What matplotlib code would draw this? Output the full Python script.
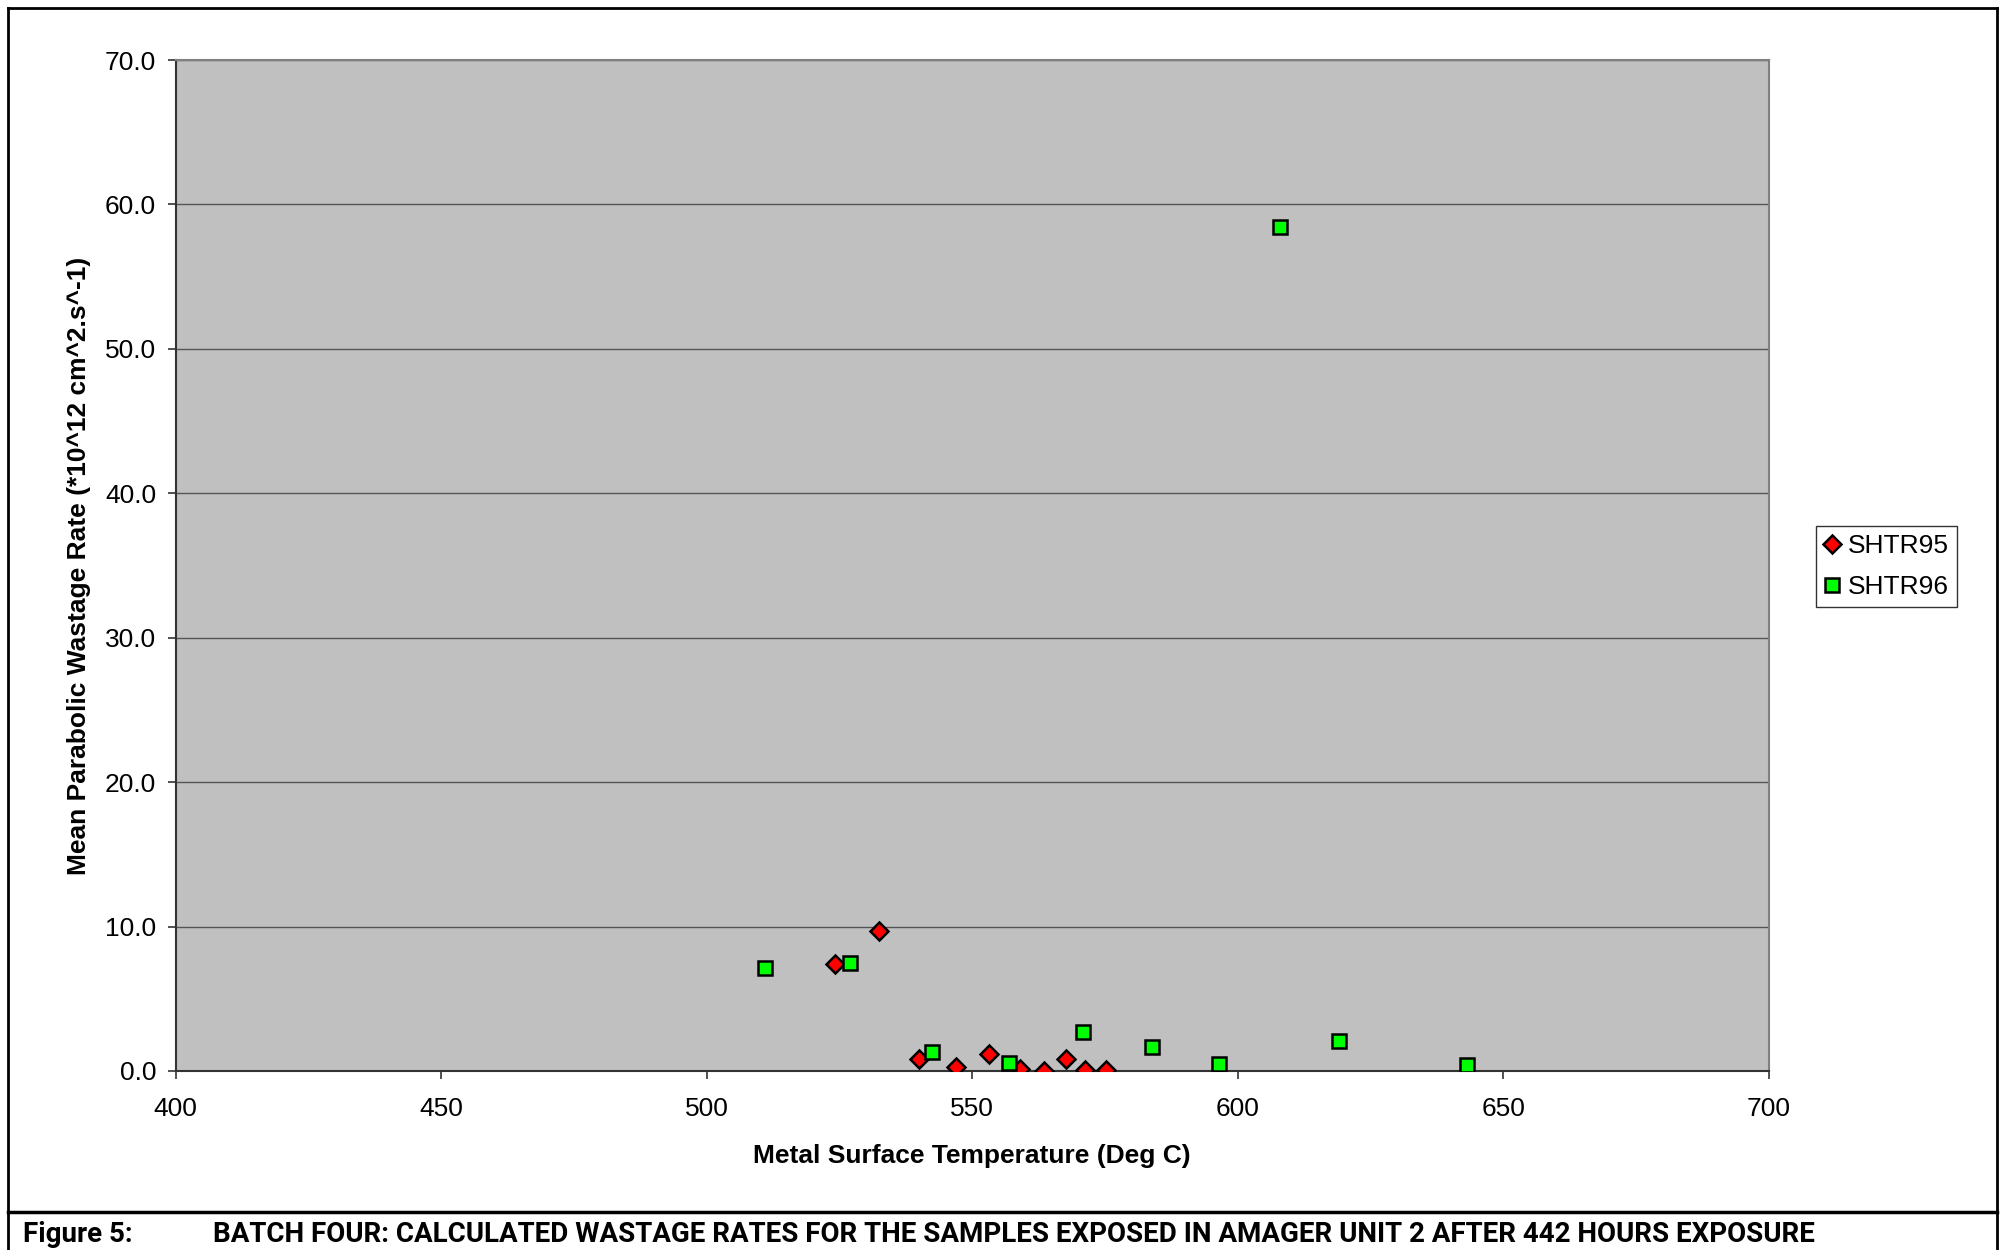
import matplotlib
matplotlib.use("Agg")
import matplotlib.pyplot as plt
from matplotlib.lines import Line2D
from matplotlib.ticker import FormatStrFormatter

# SHTR95 (red diamonds)
shtr95_temp = [524.2, 532.5, 540.0, 547.0, 553.1, 558.9, 563.6, 567.7, 571.3, 575.2]
shtr95_rate = [7.41, 9.70, 0.83, 0.28, 1.16, 0.12, 0.02, 0.81, 0.05, 0.05]

# SHTR96 (green squares)
shtr96_temp = [511.0, 527.0, 542.4, 556.9, 570.8, 583.9, 596.4, 608.0, 619.0, 643.2]
shtr96_rate = [7.13, 7.46, 1.34, 0.58, 2.68, 1.68, 0.46, 58.47, 2.10, 0.42]

x_ticks = [400, 450, 500, 550, 600, 650, 700]
y_ticks = [0, 10, 20, 30, 40, 50, 60, 70]

fig_label = "Figure 5:"
caption = "BATCH FOUR: CALCULATED WASTAGE RATES FOR THE SAMPLES EXPOSED IN AMAGER UNIT 2 AFTER 442 HOURS EXPOSURE"

plt.rcParams['font.family'] = ['Liberation Sans', 'DejaVu Sans']

W, H = 2002, 1250
fig = plt.figure(figsize=(W / 100, H / 100), dpi=100)
ax = fig.add_axes([175.5 / W, 1 - 1071 / H, (1769 - 175.5) / W, (1071 - 60) / H])

ax.set_facecolor('#C0C0C0')
ax.set_xlim(400, 700)
ax.set_ylim(0, 70)
ax.set_xticks(x_ticks)
ax.set_yticks(y_ticks)
ax.yaxis.set_major_formatter(FormatStrFormatter('%.1f'))
ax.grid(axis='y', color='#555555', linewidth=1.0)
ax.set_axisbelow(True)

for side in ['top', 'right']:
    ax.spines[side].set_color('#808080')
    ax.spines[side].set_linewidth(1.5)
for side in ['left', 'bottom']:
    ax.spines[side].set_color('#333333')
    ax.spines[side].set_linewidth(1.5)

ax.tick_params(axis='both', direction='out', length=6, width=1.2, color='#333333',
               labelsize=19, pad=8)
ax.tick_params(axis='x', pad=13)

ax.plot(shtr95_temp, shtr95_rate, linestyle='none', marker='D', markersize=9,
        markerfacecolor='#FF0000', markeredgecolor='black', markeredgewidth=1.8,
        label='SHTR95', zorder=3)
ax.plot(shtr96_temp, shtr96_rate, linestyle='none', marker='s', markersize=10,
        markerfacecolor='#00FF00', markeredgecolor='black', markeredgewidth=1.8,
        label='SHTR96', zorder=3)

ax.set_xlabel('Metal Surface Temperature (Deg C)', fontsize=19, fontweight='bold', labelpad=16)
ax.set_ylabel('Mean Parabolic Wastage Rate (*10^12 cm^2.s^-1)', fontsize=19,
              fontweight='bold', labelpad=10)

leg = fig.legend(loc='upper left', bbox_to_anchor=(1816 / W, 1 - 526 / H),
                 fontsize=19, frameon=True, fancybox=False, edgecolor='black',
                 handlelength=0.6, handletextpad=0.3, borderpad=0.3,
                 labelspacing=0.65, borderaxespad=0)
leg.get_frame().set_linewidth(1.0)

# outer frame and caption rule
fig.add_artist(Line2D([8 / W, 1997 / W], [1 - 8 / H, 1 - 8 / H], color='black', lw=2))
fig.add_artist(Line2D([8 / W, 8 / W], [1 - 8 / H, 0], color='black', lw=2))
fig.add_artist(Line2D([1997 / W, 1997 / W], [1 - 8 / H, 0], color='black', lw=2))
fig.add_artist(Line2D([8 / W, 1997 / W], [1 - 1212 / H, 1 - 1212 / H], color='black', lw=2.5))

fig.text(23 / W, 1 - 1235 / H, fig_label, fontsize=20, fontweight='bold',
         family=['Roboto', 'DejaVu Sans'], va='center', ha='left')
fig.text(213 / W, 1 - 1235 / H, caption, fontsize=20, fontweight='bold',
         family=['Roboto', 'DejaVu Sans'], va='center', ha='left')

fig.savefig('out.png', dpi=100, facecolor='white')
